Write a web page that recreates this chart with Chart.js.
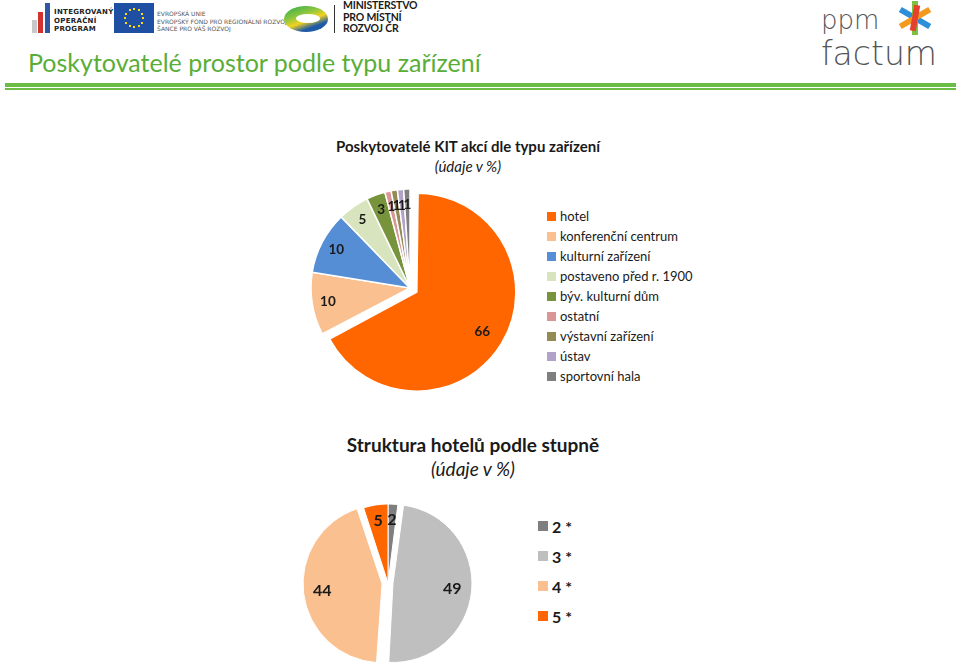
<!DOCTYPE html>
<html lang="cs">
<head>
<meta charset="utf-8">
<script src="https://cdn.jsdelivr.net/npm/chart.js@4"></script>
<style>
  body { margin: 0; width: 960px; height: 666px; overflow: hidden; background: #fff; position: relative; font-family: Lato, "Noto Sans", sans-serif; color: #111; }
  .abs { position: absolute; white-space: nowrap; line-height: 1; }
  .rule { position: absolute; left: 5px; width: 951px; background: #6cbd45; }
  .legend-row { position: absolute; display: flex; align-items: center; }
  .legend-row span.box { display: inline-block; }
</style>
</head>
<body>

<!-- header logos -->
<div class="abs" style="left:32px;top:20px;width:5px;height:13px;background:#c8c8c8"></div>
<div class="abs" style="left:38px;top:12px;width:5px;height:21px;background:#d2332f"></div>
<div class="abs" style="left:45px;top:3px;width:5px;height:30px;background:#2f55a4"></div>
<div class="abs" style="left:54px;top:8px;font:bold 7px 'DejaVu Sans';letter-spacing:0.3px;line-height:8.5px;color:#222">INTEGROVANÝ<br>OPERAČNÍ<br>PROGRAM</div>

<div class="abs" id="euflag" style="left:114px;top:3px;width:40px;height:30px;background:#1f4fa3"></div>
<div class="abs" style="left:157px;top:10px;font:6px 'DejaVu Sans';line-height:7.5px;color:#555">EVROPSKÁ UNIE<br>EVROPSKÝ FOND PRO REGIONÁLNÍ ROZVOJ<br>ŠANCE PRO VÁŠ ROZVOJ</div>

<div class="abs" style="left:284px;top:6px;width:44px;height:26px;border-radius:50%;background:linear-gradient(160deg,#2aa84a 0%,#8cc63f 35%,#f4d21f 55%,#1f5aa6 75%,#1f5aa6 100%)"></div>
<div class="abs" style="left:296px;top:14px;width:24px;height:9px;border-radius:50%;background:#fff"></div>
<div class="abs" style="left:334px;top:5px;width:1px;height:28px;background:#333"></div>
<div class="abs" style="left:343px;top:0px;font:bold 10.5px Lato;letter-spacing:-0.2px;line-height:11.5px;color:#1a1a1a">MINISTERSTVO<br>PRO MÍSTNÍ<br>ROZVOJ ČR</div>

<div class="abs" style="left:821px;top:5px;font:200 26px 'DejaVu Sans';color:#555">ppm</div>
<div class="abs" style="left:821px;top:34px;font:200 33px 'DejaVu Sans';color:#555">factum</div>
<div class="abs" style="left:898px;top:15px;width:34px;height:6px;background:#2c8fd8;transform:rotate(30deg)"></div>
<div class="abs" style="left:898px;top:15px;width:34px;height:6px;background:#f39a1e;transform:rotate(-30deg)"></div>
<div class="abs" style="left:898px;top:15px;width:34px;height:6px;background:#7cc242;transform:rotate(90deg)"></div>
<div class="abs" style="left:902px;top:15px;width:26px;height:6px;background:#e5412c;transform:rotate(-80deg)"></div>

<div class="abs" style="left:28px;top:47px;font:25px Lato;color:#5aae38">Poskytovatelé prostor podle typu zařízení</div>
<div class="rule" style="top:83px;height:4px"></div>
<div class="rule" style="top:88px;height:2px"></div>

<!-- chart 1 -->
<div class="abs" style="left:0;width:936px;text-align:center;top:137px;font:bold 15px Lato;color:#1a1a1a">Poskytovatelé KIT akcí dle typu zařízení</div>
<div class="abs" style="left:0;width:936px;text-align:center;top:157px;font:italic 15px Lato;color:#1a1a1a">(údaje v %)</div>
<div class="abs" style="left:300px;top:178px;width:220px;height:220px"><canvas id="typeChart"></canvas></div>
<div id="typeLegend"></div>

<!-- chart 2 -->
<div class="abs" style="left:0;width:946px;text-align:center;top:433px;font:bold 19px Lato;color:#1a1a1a">Struktura hotelů podle stupně</div>
<div class="abs" style="left:0;width:946px;text-align:center;top:457px;font:italic 19px Lato;color:#1a1a1a">(údaje v %)</div>
<div class="abs" style="left:298px;top:493px;width:180px;height:180px"><canvas id="starChart"></canvas></div>
<div id="starLegend"></div>

<script>
const TYPE_LABELS = ["hotel", "konferenční centrum", "kulturní zařízení", "postaveno před r. 1900",
  "býv. kulturní dům", "ostatní", "výstavní zařízení", "ústav", "sportovní hala"];
const TYPE_VALUES = [66, 10, 10, 5, 3, 1, 1, 1, 1];
const TYPE_COLORS = ["#ff6600", "#fac090", "#558ed5", "#d7e4bd", "#77933c", "#d99694", "#948a54", "#b3a2c7", "#7f7f7f"];

const STAR_LABELS = ["2 *", "3 *", "4 *", "5 *"];
const STAR_VALUES = [2, 49, 44, 5];
const STAR_COLORS = ["#7f7f7f", "#bfbfbf", "#fac090", "#ff6600"];

// EU flag stars
const flag = document.getElementById("euflag");
for (let i = 0; i < 12; i++) {
  const a = i * Math.PI / 6;
  const s = document.createElement("div");
  s.className = "abs";
  s.style.cssText = `left:${19 + Math.cos(a) * 9}px;top:${14 + Math.sin(a) * 9}px;width:2px;height:2px;background:#ffdd00`;
  flag.appendChild(s);
}

// chart.js moves an exploded slice by offset/4 but also grows its radius;
// keep the radius equal to the rest of the pie
const explodeFix = {
  id: "explodeFix",
  beforeDatasetsDraw(chart) {
    const meta = chart.getDatasetMeta(0);
    const R = meta.controller.outerRadius;
    meta.data.forEach(arc => {
      const off = (arc.options.offset || 0) / 4;
      const fix = 1 - Math.sin(Math.min(Math.PI, arc.circumference || 0));
      arc.outerRadius = R - off * fix;
    });
  }
};

// value labels drawn on the slices
const valueLabels = {
  id: "valueLabels",
  afterDatasetsDraw(chart, args, opts) {
    const { ctx } = chart;
    const meta = chart.getDatasetMeta(0);
    const values = chart.data.datasets[0].data;
    ctx.save();
    ctx.font = opts.font;
    ctx.fillStyle = "#1a1a1a";
    ctx.textAlign = "center";
    ctx.textBaseline = "middle";
    meta.data.forEach((arc, i) => {
      const p = arc.getProps(["x", "y", "startAngle", "endAngle", "outerRadius"], true);
      const mid = (p.startAngle + p.endAngle) / 2;
      const r = p.outerRadius * opts.dist + (arc.options.offset || 0) / 4;
      ctx.fillText(String(values[i]), p.x + Math.cos(mid) * r, p.y + Math.sin(mid) * r);
    });
    ctx.restore();
  }
};

function makeLegend(el, labels, colors, left, top, step, box, font) {
  labels.forEach((lab, i) => {
    const row = document.createElement("div");
    row.className = "legend-row";
    row.style.cssText = `left:${left}px;top:${top + i * step}px;height:14px;font:${font};color:#1a1a1a`;
    row.innerHTML = `<span class="box" style="width:${box}px;height:${box}px;background:${colors[i]};margin-right:4px"></span>${lab}`;
    el.appendChild(row);
  });
}

function pieOptions(radius, labelOpts) {
  return {
    responsive: true,
    maintainAspectRatio: false,
    animation: false,
    radius,
    layout: { padding: 0 },
    plugins: {
      legend: { display: false },
      tooltip: { enabled: false },
      valueLabels: labelOpts,
    },
  };
}

new Chart(document.getElementById("typeChart"), {
  type: "pie",
  data: {
    labels: TYPE_LABELS,
    datasets: [{
      data: TYPE_VALUES,
      backgroundColor: TYPE_COLORS,
      borderColor: "#fff",
      borderWidth: 1.5,
      offset: [32, 0, 0, 0, 0, 0, 0, 0, 0],
    }],
  },
  options: pieOptions(99, { font: "bold 13.5px Lato", dist: 0.84 }),
  plugins: [explodeFix, valueLabels],
});

new Chart(document.getElementById("starChart"), {
  type: "pie",
  data: {
    labels: STAR_LABELS,
    datasets: [{
      data: STAR_VALUES,
      backgroundColor: STAR_COLORS,
      borderColor: "#fff",
      borderWidth: 1,
      offset: [0, 20, 24, 0],
    }],
  },
  options: pieOptions(79, { font: "bold 16px Lato", dist: 0.8 }),
  plugins: [explodeFix, valueLabels],
});

makeLegend(document.getElementById("typeLegend"), TYPE_LABELS, TYPE_COLORS, 547, 209, 20, 9, "13px Lato");
makeLegend(document.getElementById("starLegend"), STAR_LABELS, STAR_COLORS, 538, 519, 30, 10, "bold 16px Lato");
</script>
</body>
</html>
